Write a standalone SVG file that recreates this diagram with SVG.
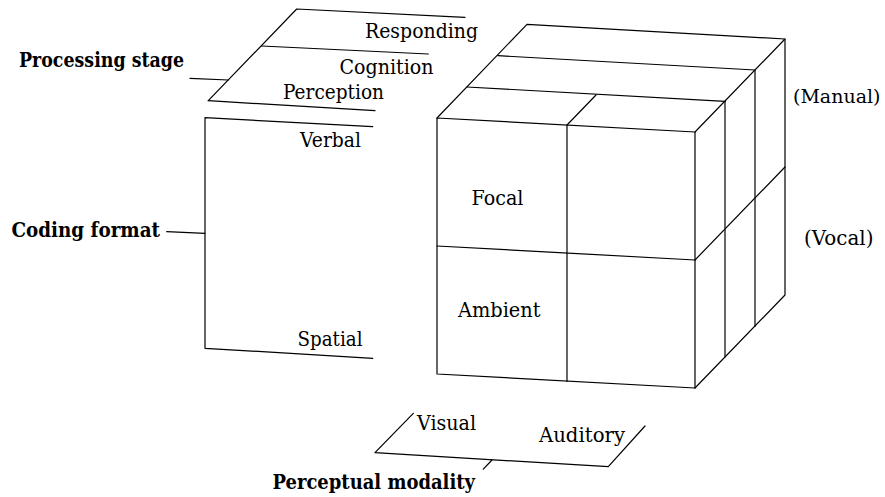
<svg xmlns="http://www.w3.org/2000/svg" width="885" height="497" viewBox="0 0 885 497">
  <style>
    .ln { fill: none; stroke: #000; stroke-width: 1.2; stroke-linecap: round; stroke-linejoin: round; }
    text { font-family: "DejaVu Serif", "Liberation Serif", serif; font-size: 21px; fill: #000; }
    .hd { font-weight: bold; }
  </style>
  <rect width="885" height="497" fill="#fff"/>

  <!-- Processing stage axis: three stacked layers -->
  <g id="processing-stage">
    <path class="ln" d="M208.3,100.7 L296.7,9 L465,17.3"/>
    <line class="ln" x1="261.5" y1="46" x2="428.3" y2="54"/>
    <line class="ln" x1="208.3" y1="100.7" x2="375" y2="110.7"/>
    <text x="365" y="37.5" textLength="113" lengthAdjust="spacingAndGlyphs">Responding</text>
    <text x="339.5" y="74" textLength="94" lengthAdjust="spacingAndGlyphs">Cognition</text>
    <text x="283" y="98.5" textLength="101" lengthAdjust="spacingAndGlyphs">Perception</text>
    <text class="hd" x="19" y="67" textLength="165" lengthAdjust="spacingAndGlyphs">Processing stage</text>
  </g>

  <!-- Coding format axis -->
  <g id="coding-format">
    <path class="ln" d="M372.7,126.7 L205,117.7 L205,348.3 L372.7,358.3"/>
    <text x="300" y="146.5" textLength="61" lengthAdjust="spacingAndGlyphs">Verbal</text>
    <text x="297.5" y="346" textLength="65" lengthAdjust="spacingAndGlyphs">Spatial</text>
    <text class="hd" x="11.5" y="236.5" textLength="148.5" lengthAdjust="spacingAndGlyphs">Coding format</text>
  </g>

  <!-- Multiple resource cube -->
  <g id="cube">
    <!-- front face -->
    <path class="ln" d="M437,118 L695,132 L695,388 L437,374 Z"/>
    <line class="ln" x1="567" y1="125" x2="567" y2="381.5"/>
    <line class="ln" x1="437" y1="246" x2="695" y2="260"/>
    <!-- top face -->
    <path class="ln" d="M437,118 L527,24.3 L785,39 L695,132"/>
    <line class="ln" x1="467" y1="87" x2="725" y2="101.3"/>
    <line class="ln" x1="498" y1="55.7" x2="755" y2="70"/>
    <line class="ln" x1="567" y1="125" x2="596" y2="95"/>
    <!-- right face -->
    <path class="ln" d="M785,39 L785,295 L695,388"/>
    <line class="ln" x1="725" y1="101.3" x2="725" y2="357"/>
    <line class="ln" x1="755" y1="70" x2="755" y2="326.5"/>
    <line class="ln" x1="695" y1="260" x2="785" y2="167"/>
    <text x="471.5" y="205" textLength="52" lengthAdjust="spacingAndGlyphs">Focal</text>
    <text x="458" y="316.5" textLength="82.5" lengthAdjust="spacingAndGlyphs">Ambient</text>
    <text x="793" y="103" style="font-size:19px">(Manual)</text>
    <text x="804" y="245" textLength="69.5" lengthAdjust="spacingAndGlyphs">(Vocal)</text>
  </g>

  <!-- Perceptual modality axis -->
  <g id="perceptual-modality">
    <path class="ln" d="M413.3,413.3 L375,452.7 L608.3,466.7 L645,426"/>
    <text x="417" y="430" textLength="59" lengthAdjust="spacingAndGlyphs">Visual</text>
    <text x="539" y="441.5" textLength="86" lengthAdjust="spacingAndGlyphs">Auditory</text>
    <text class="hd" x="272.5" y="488.5" textLength="202.5" lengthAdjust="spacingAndGlyphs">Perceptual modality</text>
  </g>

  <!-- Leader lines from axis titles -->
  <g id="connectors">
    <line class="ln" x1="190" y1="78.3" x2="228.3" y2="80"/>
    <line class="ln" x1="166.7" y1="231.7" x2="205" y2="233.3"/>
    <line class="ln" x1="483.3" y1="469.2" x2="492" y2="460"/>
  </g>
</svg>
